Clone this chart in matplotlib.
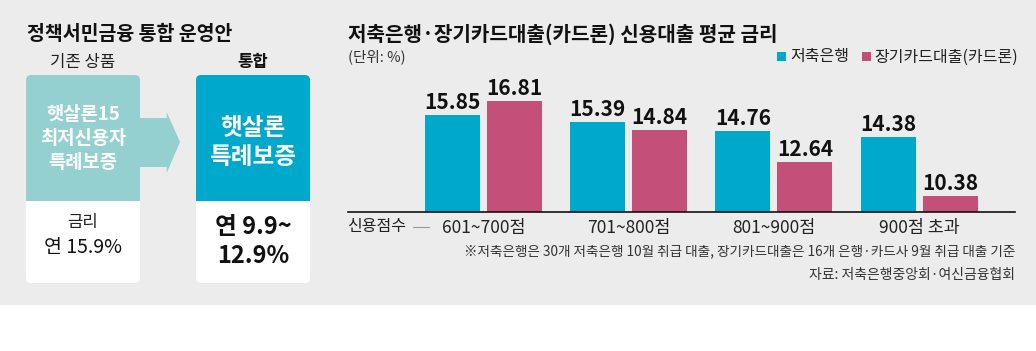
import numpy as np
import matplotlib.pyplot as plt
from matplotlib.patches import FancyBboxPatch, Rectangle, Polygon

plt.rcParams['font.family'] = ['Noto Sans CJK KR', 'DejaVu Sans']

# data
groups = ["601~700점", "701~800점", "801~900점", "900점 초과"]
savings_bank = [15.85, 15.39, 14.76, 14.38]
card_loan = [16.81, 14.84, 12.64, 10.38]
series_names = ["저축은행", "장기카드대출(카드론)"]

old_product = ["햇살론15", "최저신용자", "특례보증"]
new_product = ["햇살론", "특례보증"]
old_rate = "연 15.9%"
new_rate = ["연 9.9~", "12.9%"]

TEAL = "#00a9cc"
PINK = "#c45079"
LIGHT_TEAL = "#95d0d0"
BG = "#ebeceb"

W, H = 1036, 351
fig = plt.figure(figsize=(W / 100, H / 100), dpi=100)
fig.patch.set_facecolor("white")

# overlay axes in pixel units (y goes down)
ov = fig.add_axes([0, 0, 1, 1])
ov.set_xlim(0, W)
ov.set_ylim(H, 0)
ov.axis("off")
ov.add_patch(Rectangle((0, 0), W, 304, color=BG, zorder=0))

# ---- left panel ----
ov.text(27, 34, "정책서민금융 통합 운영안", fontsize=14, fontweight="bold",
        va="center", ha="left", color="#111")
ov.text(83, 62, "기존 상품", fontsize=12, ha="center", va="center", color="#222")
ov.text(253, 62, "통합", fontsize=12, fontweight="bold", ha="center", va="center", color="#111")


def card(x0, x1, color):
    ov.add_patch(FancyBboxPatch((x0, 75), x1 - x0, 208, boxstyle="round,pad=0,rounding_size=5",
                                fc="white", ec="none", zorder=1))
    ov.add_patch(FancyBboxPatch((x0, 75), x1 - x0, 140, boxstyle="round,pad=0,rounding_size=5",
                                fc=color, ec="none", zorder=2))
    ov.add_patch(Rectangle((x0, 201), x1 - x0, 20, fc="white", ec="none", zorder=3))


card(26, 140, LIGHT_TEAL)
card(196, 310, TEAL)

ov.add_patch(Polygon([(140, 118), (166.7, 118), (166.7, 112), (180, 142),
                      (166.7, 173), (166.7, 167), (140, 167)],
                     closed=True, fc=LIGHT_TEAL, ec="none", zorder=2))

for i, t in enumerate(old_product):
    ov.text(83, 115 + i * 24, t, fontsize=13.5, fontweight="bold", color="white",
            ha="center", va="center", zorder=4)
for i, t in enumerate(new_product):
    ov.text(253, 128 + i * 29, t, fontsize=17, fontweight="bold", color="white",
            ha="center", va="center", zorder=4)

ov.text(83, 223, "금리", fontsize=12, ha="center", va="center", color="#222", zorder=4)
ov.text(83, 248, old_rate, fontsize=14, ha="center", va="center", color="#111", zorder=4)
for i, t in enumerate(new_rate):
    ov.text(253, 227 + i * 29, t, fontsize=17, fontweight="bold", ha="center",
            va="center", color="#111", zorder=4)

# ---- right panel ----
ov.text(348, 34, "저축은행·장기카드대출(카드론) 신용대출 평균 금리", fontsize=14.5,
        fontweight="bold", ha="left", va="center", color="#111")
ov.text(348, 57, "(단위: %)", fontsize=10.5, ha="left", va="center", color="#333")

ov.add_patch(Rectangle((777, 52), 9, 9, fc=TEAL, ec="none"))
ov.text(790, 57, series_names[0], fontsize=11.5, ha="left", va="center", color="#222")
ov.add_patch(Rectangle((862, 52), 9, 9, fc=PINK, ec="none"))
ov.text(874, 57, series_names[1], fontsize=11.5, ha="left", va="center", color="#222")

ov.text(347, 226, "신용점수", fontsize=11.5, ha="left", va="center", color="#222")
ov.plot([413, 429], [226.5, 226.5], color="#999", lw=0.8)

ov.text(1015, 251, "※저축은행은 30개 저축은행 10월 취급 대출, 장기카드대출은 16개 은행·카드사 9월 취급 대출 기준",
        fontsize=9.8, ha="right", va="center", color="#333")
ov.text(1015, 275, "자료: 저축은행중앙회·여신금융협회", fontsize=10, ha="right",
        va="center", color="#333")

# bar axes
base_px, top_px = 211.7, 90
ymin, px_per = 9.3, 14.78
ax = fig.add_axes([348 / W, (H - base_px) / H, (1015 - 348) / W, (base_px - top_px) / H])
ax.patch.set_alpha(0)
ax.set_ylim(ymin, ymin + (base_px - top_px) / px_per)
ax.set_xlim(-0.933, 3.66)

x = np.arange(len(groups))
bw, off = 0.379, 0.2135
b1 = ax.bar(x - off, savings_bank, bw, color=TEAL)
b2 = ax.bar(x + off, card_loan, bw, color=PINK)
for bars in (b1, b2):
    for r in bars:
        ax.annotate(f"{r.get_height():.2f}", (r.get_x() + r.get_width() / 2, r.get_height()),
                    xytext=(0, 1.5), textcoords="offset points", ha="center", va="bottom",
                    fontsize=15, fontweight="bold", color="#111")

for s in ["left", "right", "top"]:
    ax.spines[s].set_visible(False)
ax.spines["bottom"].set_color("#111")
ax.spines["bottom"].set_linewidth(1.2)
ax.set_yticks([])
ax.set_xticks(x)
ax.set_xticklabels(groups, fontsize=12.5, color="#222")
ax.tick_params(axis="x", length=0, pad=5)

fig.savefig("out.png", dpi=100, facecolor=fig.get_facecolor())
